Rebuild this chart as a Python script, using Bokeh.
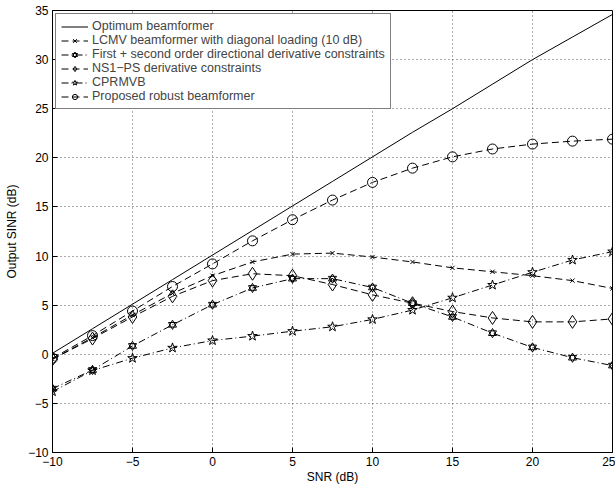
from bokeh.plotting import figure
from bokeh.models import Legend, LegendItem, FixedTicker, Range1d
from bokeh.embed import file_html
from bokeh.resources import INLINE

snr = [-10, -7.5, -5, -2.5, 0, 2.5, 5, 7.5, 10, 12.5, 15, 17.5, 20, 22.5, 25]
optimum = [0.1, 2.6, 5.1, 7.6, 10.1, 12.6, 15.1, 17.6, 20.1, 22.6, 25.0, 27.5, 30.0, 32.3, 34.6]
lcmv = [-0.5, 1.7, 4.0, 6.2, 8.0, 9.4, 10.2, 10.3, 9.9, 9.4, 8.8, 8.4, 8.0, 7.5, 6.7]
first_second = [-3.5, -1.6, 0.85, 3.0, 5.05, 6.75, 7.7, 7.7, 6.8, 5.2, 3.8, 2.15, 0.7, -0.35, -1.15]
ns1ps = [-0.5, 1.6, 3.8, 5.9, 7.5, 8.2, 8.0, 7.1, 6.05, 5.2, 4.35, 3.7, 3.3, 3.3, 3.6]
cprmvb = [-3.8, -1.65, -0.4, 0.65, 1.4, 1.85, 2.35, 2.8, 3.55, 4.5, 5.75, 7.05, 8.35, 9.6, 10.45]
proposed = [-0.4, 1.9, 4.4, 6.9, 9.2, 11.55, 13.7, 15.7, 17.5, 18.95, 20.1, 20.9, 21.4, 21.7, 21.9]

labels = [
    "Optimum beamformer",
    "LCMV beamformer with diagonal loading (10 dB)",
    "First + second order directional derivative constraints",
    "NS1\u2212PS derivative constraints",
    "CPRMVB",
    "Proposed robust beamformer",
]
x_ticks = [-10, -5, 0, 5, 10, 15, 20, 25]
y_ticks = [-10, -5, 0, 5, 10, 15, 20, 25, 30, 35]

FONT = "Liberation Sans"

p = figure(width=615, height=488, output_backend="svg", toolbar_location=None,
           x_range=Range1d(-10, 25), y_range=Range1d(-10, 35),
           min_border_left=52, min_border_right=3, min_border_top=10, min_border_bottom=36)
p.background_fill_color = "white"
p.border_fill_color = "white"
p.outline_line_color = "black"
p.outline_line_width = 1

xax = p.below[0]
yax = p.left[0]
for ax in (xax, yax):
    ax.major_tick_in = 5
    ax.major_tick_out = 0
    ax.minor_tick_in = 0
    ax.minor_tick_out = 0
    ax.axis_line_color = "black"
    ax.major_label_text_font = FONT
    ax.major_label_text_font_size = "12px"
    ax.major_label_text_color = "black"
    ax.axis_label_text_font = FONT
    ax.axis_label_text_font_size = "12px"
    ax.axis_label_text_font_style = "normal"
    ax.axis_label_text_color = "black"
xax.ticker = FixedTicker(ticks=x_ticks)
yax.ticker = FixedTicker(ticks=y_ticks)
xax.major_label_overrides = {t: str(t).replace("-", "\u2212") for t in x_ticks}
yax.major_label_overrides = {t: str(t).replace("-", "\u2212") for t in y_ticks}
xax.axis_label = "SNR (dB)"
yax.axis_label = "Output SINR (dB)"
xax.major_label_standoff = 4
xax.axis_label_standoff = 1
yax.major_label_standoff = 4
yax.axis_label_standoff = 6

p.xgrid.ticker = FixedTicker(ticks=x_ticks)
p.ygrid.ticker = FixedTicker(ticks=y_ticks)
for g in (p.xgrid[0], p.ygrid[0]):
    g.grid_line_color = "#555555"
    g.grid_line_dash = "1 3"
    g.grid_line_width = 1

DASH = "7 4"
DASHDOT = "7 3 1 3"

r_opt = p.line(snr, optimum, line_color="black", line_width=1)

r_lcmv_l = p.line(snr, lcmv, line_color="black", line_width=1, line_dash=DASH)
r_lcmv_m = p.scatter(snr, lcmv, marker="x", size=6, line_color="black", line_width=1)

r_fs_l = p.line(snr, first_second, line_color="black", line_width=1, line_dash=DASHDOT)
r_fs_m1 = p.scatter(snr, first_second, marker="triangle", size=8, line_color="black",
                    fill_color=None, line_width=1)
r_fs_m2 = p.scatter(snr, first_second, marker="inverted_triangle", size=8, line_color="black",
                    fill_color=None, line_width=1)

r_ns_l = p.line(snr, ns1ps, line_color="black", line_width=1, line_dash=DASH)
r_ns_m = p.scatter(snr, ns1ps, marker="diamond", size=13, line_color="black",
                   fill_color=None, line_width=1)

r_cp_l = p.line(snr, cprmvb, line_color="black", line_width=1, line_dash=DASHDOT)
r_cp_m = p.scatter(snr, cprmvb, marker="star", size=10, line_color="black",
                   fill_color=None, line_width=1)

r_pr_l = p.line(snr, proposed, line_color="black", line_width=1, line_dash=DASH)
r_pr_m = p.scatter(snr, proposed, marker="circle", size=10, line_color="black",
                   fill_color=None, line_width=1)

items = [
    LegendItem(label=labels[0], renderers=[r_opt]),
    LegendItem(label=labels[1], renderers=[r_lcmv_l, r_lcmv_m]),
    LegendItem(label=labels[2], renderers=[r_fs_l, r_fs_m1, r_fs_m2]),
    LegendItem(label=labels[3], renderers=[r_ns_l, r_ns_m]),
    LegendItem(label=labels[4], renderers=[r_cp_l, r_cp_m]),
    LegendItem(label=labels[5], renderers=[r_pr_l, r_pr_m]),
]
legend = Legend(items=items, location="top_left")
legend.border_line_color = "black"
legend.border_line_width = 1
legend.background_fill_color = "white"
legend.background_fill_alpha = 1
legend.label_text_font = FONT
legend.label_text_font_size = "12.5px"
legend.label_height = 13
legend.glyph_height = 13
legend.glyph_width = 27
legend.spacing = 0
legend.padding = 5
legend.margin = 3
legend.label_standoff = 4
p.add_layout(legend)

open("out.html", "w").write(file_html(p, INLINE))
